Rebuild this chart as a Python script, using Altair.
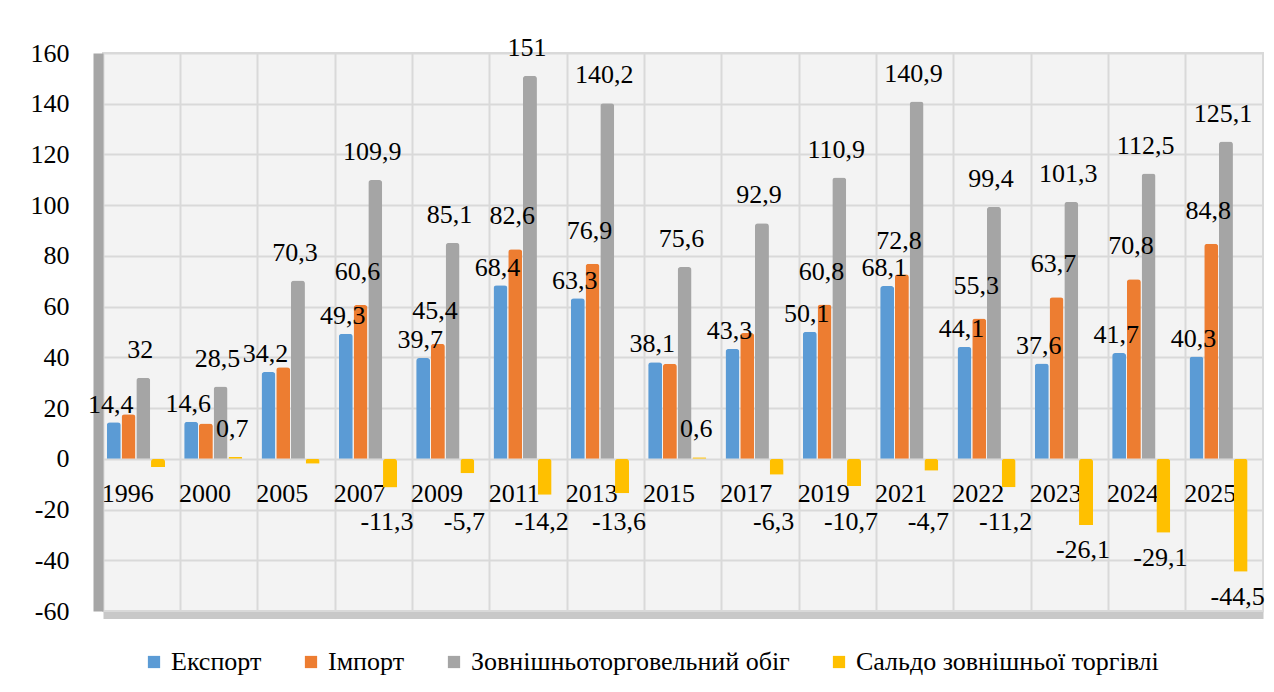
import altair as alt
import pandas as pd

years = ["1996", "2000", "2005", "2007", "2009", "2011", "2013", "2015",
         "2017", "2019", "2021", "2022", "2023", "2024", "2025"]
series = ["Експорт", "Імпорт", "Зовнішньоторговельний обіг", "Сальдо зовнішньої торгівлі"]
colors = ["#5B9BD5", "#ED7D31", "#A5A5A5", "#FFC000"]

export_v = [14.4, 14.6, 34.2, 49.3, 39.7, 68.4, 63.3, 38.1, 43.3, 50.1, 68.1, 44.1, 37.6, 41.7, 40.3]
import_v = [17.6, 13.9, 36.1, 60.6, 45.4, 82.6, 76.9, 37.5, 49.6, 60.8, 72.8, 55.3, 63.7, 70.8, 84.8]
turnover_v = [32, 28.5, 70.3, 109.9, 85.1, 151, 140.2, 75.6, 92.9, 110.9, 140.9, 99.4, 101.3, 112.5, 125.1]
saldo_v = [-3.2, 0.7, -1.9, -11.3, -5.7, -14.2, -13.6, 0.6, -6.3, -10.7, -4.7, -11.2, -26.1, -29.1, -44.5]

export_show = [True] * 15
import_show = [False, False, False, True, True, True, True, False, False, True, True, True, True, True, True]
turnover_show = [True] * 15
saldo_show = [False, True, False] + [True] * 12

rows = []
for name, vals, shows in zip(series,
                             [export_v, import_v, turnover_v, saldo_v],
                             [export_show, import_show, turnover_show, saldo_show]):
    for y, v, s in zip(years, vals, shows):
        lab = ("%g" % v).replace(".", ",") if s else ""
        rows.append({"year": y, "series": name, "v": v, "label": lab})
df = pd.DataFrame(rows)

FONT = "Liberation Serif, Tinos, 'Times New Roman', 'DejaVu Serif', serif"
FS = 26

x_enc = alt.X("year:N", sort=years,
              scale=alt.Scale(paddingInner=0, paddingOuter=0),
              axis=alt.Axis(title=None, orient="bottom", offset=4,
                            domain=True, domainColor="#C8C8C8", domainWidth=7,
                            ticks=False, grid=True, gridColor="#D9D9D9", gridWidth=2,
                            bandPosition=0, labelAngle=0,
                            labelFont=FONT, labelFontSize=FS, labelColor="#000000",
                            labelBaseline="middle", labelPadding=-122, labelOffset=-14))
xoff_enc = alt.XOffset("series:N", sort=series,
                       scale=alt.Scale(paddingInner=0.05, paddingOuter=0.65, align=0.2))

bars = alt.Chart(df).mark_bar(cornerRadiusEnd=3).encode(
    x=x_enc,
    xOffset=xoff_enc,
    y=alt.Y("v:Q",
            scale=alt.Scale(domain=[-60, 160], nice=False, zero=False),
            axis=alt.Axis(title=None, values=list(range(-60, 161, 20)),
                          labelExpr="'' + datum.value",
                          offset=5, domain=True, domainColor="#A6A6A6", domainWidth=10,
                          ticks=False, grid=True, gridColor="#D9D9D9", gridWidth=2,
                          labelFont=FONT, labelFontSize=FS, labelColor="#000000",
                          labelPadding=29)),
    color=alt.Color("series:N", sort=series,
                    scale=alt.Scale(domain=series, range=colors),
                    legend=alt.Legend(title=None, orient="none", direction="horizontal",
                                      legendX=38, legendY=596,
                                      symbolType="square", symbolSize=150,
                                      symbolStrokeWidth=0,
                                      labelFont=FONT, labelFontSize=FS,
                                      labelColor="#000000", labelLimit=0,
                                      columnPadding=36, padding=0)),
)

labels = alt.Chart(df).transform_calculate(
    lp="datum.v >= 0 ? datum.v + (datum.series == 'Експорт' ? 7 : (datum.series == 'Імпорт' ? 13 : 11)) : min(datum.v - 10, -25)"
).mark_text(font=FONT, fontSize=FS, color="#000000", baseline="middle", dx=-3).encode(
    x=alt.X("year:N", sort=years),
    xOffset=alt.XOffset("series:N", sort=series),
    y=alt.Y("lp:Q"),
    text="label:N",
)

chart = alt.layer(bars, labels).properties(
    width=1160, height=558,
    autosize=alt.AutoSizeParams(type="none"),
    padding={"left": 95, "top": 45, "right": 3, "bottom": 80},
    background="#FFFFFF",
).configure_view(fill="#F3F3F3", stroke="#D9D9D9", strokeWidth=2)

chart.save("out.html", embed_options={"renderer": "svg", "actions": False})
